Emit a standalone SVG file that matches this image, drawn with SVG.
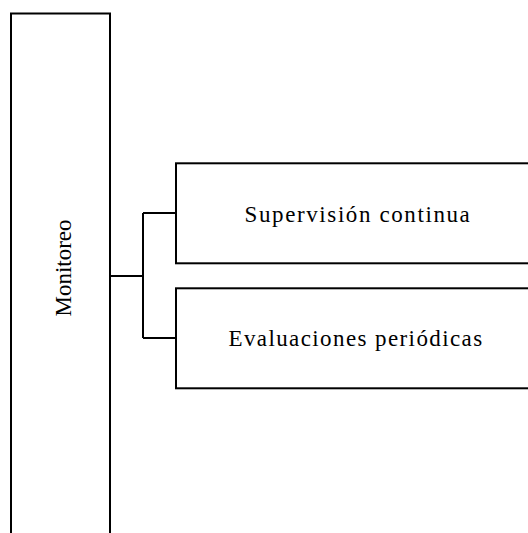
<svg xmlns="http://www.w3.org/2000/svg" width="528" height="533" viewBox="0 0 528 533">
<style>
.box{fill:#fff;stroke:#000;stroke-width:2}
.lbl{font-family:"Liberation Serif","DejaVu Serif",serif;font-size:23px;fill:#000}
.conn{fill:none;stroke:#000;stroke-width:2}
</style>
<rect width="528" height="533" fill="#fff"/>
<g id="connectors">
<path class="conn" d="M110 276H143M143 213V338M143 213H176M143 338H176"/>
</g>
<g id="monitoreo">
<rect class="box" x="11" y="13.5" width="99" height="540"/>
<text class="lbl" transform="translate(70.5 268) rotate(-90)" text-anchor="middle">Monitoreo</text>
</g>
<g id="supervision">
<rect class="box" x="176" y="163.3" width="370" height="100"/>
<text class="lbl" x="358" y="222" text-anchor="middle" letter-spacing="1.6">Supervisión continua</text>
</g>
<g id="evaluaciones">
<rect class="box" x="176" y="288.3" width="370" height="100"/>
<text class="lbl" x="356" y="346" text-anchor="middle" letter-spacing="1.4">Evaluaciones periódicas</text>
</g>
</svg>
